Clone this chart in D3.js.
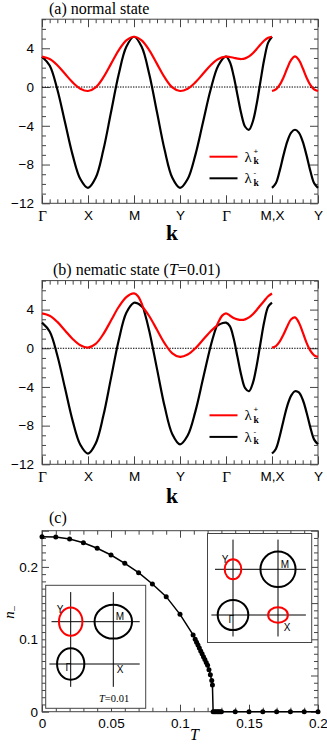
<!DOCTYPE html>
<html><head><meta charset="utf-8">
<script src="https://cdn.jsdelivr.net/npm/d3@7"></script>
<style>body{margin:0;background:#fff}svg{display:block}</style>
</head><body>
<script>
// ---------------- DATA ----------------
const kTicks = [0, 1, 2, 3, 4, 5, 6];
const kLabels = ["Γ", "X", "M", "Y", "Γ", "M,X", "Y"];
const eTicks = [4, 0, -4, -8, -12];

// panel (a) normal state, path Γ-X-M-Y-Γ-M
const kA = [0, .1667, .3333, .5, .6667, .8333, 1, 1.1667, 1.3333, 1.5, 1.6667, 1.8333, 2, 2.1667, 2.3333, 2.5, 2.6667, 2.8333, 3, 3.1667, 3.3333, 3.5, 3.6667, 3.8333, 4, 4.0833, 4.1667, 4.25, 4.3333, 4.4167, 4.5, 4.5833, 4.6667, 4.75, 4.8333, 4.9167, 5];
const redA = [3.13, 2.89, 2.25, 1.36, 0.48, -0.17, -0.41, -0.04, 0.99, 2.39, 3.79, 4.82, 5.19, 4.82, 3.79, 2.39, 0.99, -0.04, -0.41, -0.17, 0.48, 1.36, 2.25, 2.89, 3.13, 3.10, 3.02, 2.93, 2.89, 2.96, 3.16, 3.49, 3.92, 4.39, 4.80, 5.09, 5.19];
const blackA = [3.13, 2.22, -0.26, -3.64, -7.03, -9.50, -10.41, -9.37, -6.51, -2.61, 1.29, 4.15, 5.19, 4.15, 1.29, -2.61, -6.51, -9.37, -10.41, -9.50, -7.03, -3.64, -0.26, 2.22, 3.13, 2.59, 1.13, -0.85, -2.78, -4.10, -4.41, -3.56, -1.75, 0.61, 2.91, 4.58, 5.19];
// X-Y segment
const kXY = [5, 5.0833, 5.1667, 5.25, 5.3333, 5.4167, 5.5, 5.5833, 5.6667, 5.75, 5.8333, 5.9167, 6];
const redAxy = [-0.41, -0.25, 0.22, 0.99, 1.96, 2.81, 3.16, 2.81, 1.96, 0.99, 0.22, -0.25, -0.41];
const blackAxy = [-10.41, -9.93, -8.65, -7.03, -5.60, -4.70, -4.41, -4.70, -5.60, -7.03, -8.65, -9.93, -10.41];

// panel (b) nematic state
const kB = [0, .1667, .3333, .5, .6667, .8333, 1, 1.1667, 1.3333, 1.5, 1.6667, 1.8333, 2, 2.0833, 2.1667, 2.1833, 2.2, 2.2167, 2.3333, 2.5, 2.6667, 2.8333, 3, 3.1667, 3.3333, 3.5, 3.6667, 3.75, 3.7833, 3.8, 3.8167, 3.8333, 3.9167, 4, 4.0833, 4.1667, 4.25, 4.3333, 4.4167, 4.5, 4.5833, 4.6667, 4.75, 4.8333, 4.9167, 5];
const redB = [3.61, 3.37, 2.73, 1.84, 0.96, 0.31, 0.07, 0.45, 1.47, 2.87, 4.27, 5.30, 5.67, 5.40, 4.63, 4.41, 4.18, 4.09, 3.31, 1.91, 0.51, -0.52, -0.89, -0.65, -0.01, 0.88, 1.77, 2.13, 2.26, 2.32, 2.52, 2.70, 3.38, 3.61, 3.39, 3.13, 2.99, 2.93, 2.99, 3.19, 3.52, 3.96, 4.45, 4.92, 5.38, 5.67];
const blackB = [2.65, 1.74, -0.74, -4.12, -7.51, -9.98, -10.89, -9.85, -6.99, -3.09, 0.81, 3.67, 4.71, 4.62, 4.34, 4.26, 4.18, 3.93, 1.77, -2.13, -6.03, -8.89, -9.93, -9.02, -6.55, -3.16, 0.23, 1.63, 2.10, 2.31, 2.36, 2.41, 2.59, 2.65, 2.30, 1.01, -0.91, -2.82, -4.13, -4.44, -3.60, -1.79, 0.55, 2.80, 4.29, 4.71];
const redBxy = [0.07, 0.23, 0.69, 1.42, 2.29, 3.00, 3.19, 2.67, 1.66, 0.58, -0.25, -0.73, -0.89];
const blackBxy = [-10.89, -10.41, -9.12, -7.46, -5.93, -4.89, -4.44, -4.57, -5.30, -6.61, -8.18, -9.45, -9.93];

// panel (c) order parameter n_ vs T
const tempT = [0, .01, .02, .03, .04, .05, .06, .07, .08, .09, .10, .1095, .111, .112, .113, .114, .115, .116, .117, .118, .119, .12, .121, .122, .123, .1235, .124, .125, .126, .127, .128, .129, .13, .14, .15, .16, .17, .18, .19, .2];
const nMinus = [0.2417, 0.2413, 0.2385, 0.2334, 0.2257, 0.2164, 0.2049, 0.1920, 0.1764, 0.1589, 0.1345, 0.106, 0.100, 0.096, 0.092, 0.088, 0.084, 0.080, 0.076, 0.072, 0.068, 0.064, 0.058, 0.051, 0.043, 0.037, 0, 0, 0, 0, 0, 0, 0, 0, 0, 0, 0, 0, 0, 0];
const tTicks = [0, 0.05, 0.1, 0.15, 0.2];
const tLabels = ["0", "0.05", "0.1", "0.15", "0.2"];
const nTicks = [0, 0.1, 0.2];
const nLabels = ["0", "0.1", "0.2"];

// Fermi-surface insets (pocket half-widths in units of π)
const pocketsNem = [
  {name: "Y", kx: 0, ky: 1, rx: 0.275, ry: 0.335, color: "red"},
  {name: "M", kx: 1, ky: 1, rx: 0.44, ry: 0.40, color: "black"},
  {name: "Γ", kx: 0, ky: 0, rx: 0.32, ry: 0.37, color: "black"}
];
const pocketsNorm = [
  {name: "Y", kx: 0, ky: 1, rx: 0.185, ry: 0.22, color: "red"},
  {name: "M", kx: 1, ky: 1, rx: 0.39, ry: 0.39, color: "black"},
  {name: "Γ", kx: 0, ky: 0, rx: 0.34, ry: 0.33, color: "black"},
  {name: "X", kx: 1, ky: 0, rx: 0.22, ry: 0.17, color: "red"}
];

// ---------------- DRAW ----------------
const SERIF = "'Liberation Serif','Times New Roman',serif";
const SANS = "'Liberation Sans',Arial,Helvetica,sans-serif";
const RED = "#ff0000";
const FRAME = "#444";

const svg = d3.select("body").append("svg").attr("width", 327).attr("height", 746);

function ticksOnFrame(g, x, y, xMinor, xMajor, yMinor, yMajor, minLen, majLen) {
  const [xl, xr] = x.range();
  const [yb, yt] = y.range();
  const ax = [
    [d3.axisBottom, yb, xMinor, minLen], [d3.axisBottom, yb, xMajor, majLen],
    [d3.axisTop, yt, xMinor, minLen], [d3.axisTop, yt, xMajor, majLen]
  ];
  ax.forEach(([f, pos, vals, len]) => {
    g.append("g").attr("transform", `translate(0,${pos})`)
      .call(f(x).tickValues(vals).tickSize(-len).tickFormat(""))
      .call(s => { s.select(".domain").remove(); s.selectAll("line").attr("stroke", FRAME); });
  });
  const ay = [
    [d3.axisLeft, xl, yMinor, minLen], [d3.axisLeft, xl, yMajor, majLen],
    [d3.axisRight, xr, yMinor, minLen], [d3.axisRight, xr, yMajor, majLen]
  ];
  ay.forEach(([f, pos, vals, len]) => {
    g.append("g").attr("transform", `translate(${pos},0)`)
      .call(f(y).tickValues(vals).tickSize(-len).tickFormat(""))
      .call(s => { s.select(".domain").remove(); s.selectAll("line").attr("stroke", FRAME); });
  });
  g.append("rect").attr("x", xl).attr("y", yt).attr("width", xr - xl).attr("height", yb - yt)
    .attr("fill", "none").attr("stroke", FRAME).attr("stroke-width", 1);
}

function bandPanel(top, bottom, k, red, black, kxy, redxy, blackxy, legY, titleX, titleY, titleNodes, kY) {
  const x = d3.scaleLinear().domain([0, 6]).range([42, 318]);
  const y = d3.scaleLinear().domain([-12, 7]).range([bottom, top]);
  const g = svg.append("g");

  const xMinor = d3.range(0, 37).map(i => i / 6).filter(v => Math.abs(v - Math.round(v)) > 1e-6);
  const yMinor = d3.range(-12, 8).filter(v => v % 4 !== 0);
  ticksOnFrame(g, x, y, xMinor, kTicks, yMinor, [-12, -8, -4, 0, 4], 4, 8);

  // labels
  g.append("g").attr("transform", `translate(0,${bottom})`)
    .call(d3.axisBottom(x).tickValues(kTicks).tickSize(0).tickPadding(7).tickFormat((d, i) => kLabels[i]))
    .call(s => {
      s.select(".domain").remove();
      s.selectAll("text").attr("font-family", SANS).attr("font-size", 13.5).attr("fill", "#000");
      s.selectAll("text").filter(function () { return this.textContent === "Γ"; })
        .attr("font-family", SERIF).attr("font-size", 15);
    });
  g.append("g").attr("transform", `translate(42,0)`)
    .call(d3.axisLeft(y).tickValues(eTicks).tickSize(0).tickPadding(8).tickFormat(d3.format("d")))
    .call(s => {
      s.select(".domain").remove();
      s.selectAll("text").attr("font-family", SANS).attr("font-size", 13.5).attr("fill", "#000");
    });

  // zero line
  g.append("line").attr("x1", x(0)).attr("x2", x(6)).attr("y1", y(0)).attr("y2", y(0))
    .attr("stroke", "#000").attr("stroke-width", 1).attr("stroke-dasharray", "1.4,1.2");

  const line = d3.line().x(d => x(d[0])).y(d => y(d[1])).curve(d3.curveCatmullRom.alpha(0.5));
  const series = [
    [d3.zip(k, black), "#000"], [d3.zip(kxy, blackxy), "#000"],
    [d3.zip(k, red), RED], [d3.zip(kxy, redxy), RED]
  ];
  series.forEach(([d, c]) => {
    g.append("path").attr("d", line(d)).attr("fill", "none").attr("stroke", c)
      .attr("stroke-width", 2.2).attr("stroke-linejoin", "round");
  });

  // legend
  [[legY, RED, "+"], [legY + 21.6, "#000", "-"]].forEach(([ly, c, sgn]) => {
    g.append("line").attr("x1", 209.5).attr("x2", 237.5).attr("y1", ly).attr("y2", ly)
      .attr("stroke", c).attr("stroke-width", 2);
    g.append("text").attr("x", 244.5).attr("y", ly + 5).attr("font-family", SERIF)
      .attr("font-size", 15).text("λ");
    g.append("text").attr("x", 253.5).attr("y", ly - 3).attr("font-family", SANS)
      .attr("font-size", 8).text(sgn);
    g.append("text").attr("x", 253.5).attr("y", ly + 7.5).attr("font-family", SERIF)
      .attr("font-weight", "bold").attr("font-size", 9.5).text("k");
  });

  // title
  const t = g.append("text").attr("x", titleX).attr("y", titleY).attr("font-family", SERIF).attr("font-size", 16);
  titleNodes.forEach(([s, it]) => t.append("tspan").attr("font-style", it ? "italic" : "normal").text(s));

  // k axis label
  g.append("text").attr("x", 172).attr("y", kY).attr("text-anchor", "middle").attr("font-family", SERIF)
    .attr("font-weight", "bold").attr("font-size", 21.5).text("k");
}

bandPanel(19.2, 203.3, kA, redA, blackA, kXY, redAxy, blackAxy, 156.7, 49, 14,
  [["(a) normal state", false]], 239.5);
bandPanel(280.6, 464.3, kB, redB, blackB, kXY, redBxy, blackBxy, 415.3, 53, 274.5,
  [["(b) nematic state (", false], ["T", true], ["=0.01)", false]], 503);

// ---------- panel (c) ----------
{
  const x = d3.scaleLinear().domain([0, 0.2]).range([42, 318]);
  const y = d3.scaleLinear().domain([0, 0.25]).range([711.7, 530.7]);
  const g = svg.append("g");
  const xMinor = d3.range(0, 21).map(i => i / 100).filter(v => Math.abs(v * 20 - Math.round(v * 20)) > 1e-6);
  const xMajor = [0, .05, .1, .15, .2];
  const yMinor = d3.range(0, 26).map(i => i / 100).filter(v => Math.abs(v * 20 - Math.round(v * 20)) > 1e-6);
  const yMajor = [0, .05, .1, .15, .2, .25];
  ticksOnFrame(g, x, y, xMinor, xMajor, yMinor, yMajor, 4, 7);

  g.append("g").attr("transform", `translate(0,711.7)`)
    .call(d3.axisBottom(x).tickValues(tTicks).tickSize(0).tickPadding(7).tickFormat((d, i) => tLabels[i]))
    .call(s => { s.select(".domain").remove(); s.selectAll("text").attr("font-family", SANS).attr("font-size", 13.5).attr("fill", "#000"); });
  g.append("g").attr("transform", `translate(42,0)`)
    .call(d3.axisLeft(y).tickValues(nTicks).tickSize(0).tickPadding(4).tickFormat((d, i) => nLabels[i]))
    .call(s => { s.select(".domain").remove(); s.selectAll("text").attr("font-family", SANS).attr("font-size", 13.5).attr("fill", "#000"); });

  // insets
  function inset(bx, by, bw, bh, gx, gy, sx, sy, pockets, lines, labels, extra) {
    const ig = g.append("g");
    ig.append("rect").attr("x", bx).attr("y", by).attr("width", bw).attr("height", bh)
      .attr("fill", "#fff").attr("stroke", FRAME).attr("stroke-width", 1);
    const kx = d3.scaleLinear().domain([0, 1]).range([gx, gx + sx]);
    const ky = d3.scaleLinear().domain([0, 1]).range([gy, gy - sy]);
    lines.forEach(l => {
      ig.append("line").attr("x1", kx(l[0])).attr("y1", ky(l[1])).attr("x2", kx(l[2])).attr("y2", ky(l[3]))
        .attr("stroke", "#000").attr("stroke-width", 1);
    });
    pockets.forEach(p => {
      ig.append("ellipse").attr("cx", kx(p.kx)).attr("cy", ky(p.ky))
        .attr("rx", kx(p.rx) - kx(0)).attr("ry", ky(0) - ky(p.ry))
        .attr("fill", "none").attr("stroke", p.color === "red" ? RED : "#000").attr("stroke-width", 2);
    });
    labels.forEach(l => {
      ig.append("text").attr("x", kx(l[1])).attr("y", ky(l[2])).attr("font-family", SANS)
        .attr("font-size", 10).text(l[0]);
    });
    if (extra) extra(ig);
  }
  inset(45.7, 585.3, 100, 123, 70.7, 664, 42.6, 42.3, pocketsNem,
    [[0, 1.7, 0, -0.54], [1, 1.7, 1, -0.54], [-0.45, 1, 0.62 + 1, 1], [-0.5, 0, 1.62, 0]],
    [["Y", -0.33, 1.2], ["M", 1.06, 1.05], ["Γ", -0.12, -0.17], ["X", 1.08, -0.22]],
    ig => {
      const t = ig.append("text").attr("x", 99).attr("y", 701.5).attr("font-family", SERIF).attr("font-size", 10.5);
      t.append("tspan").attr("font-style", "italic").text("T");
      t.append("tspan").text("=0.01");
    });
  inset(207.5, 533.5, 104.2, 109, 233, 615, 45, 45.7, pocketsNorm,
    [[0, 1.65, 0, -0.47], [1, 1.65, 1, -0.47], [-0.4, 1, 1.62, 1], [-0.48, 0, 1.62, 0]],
    [["Y", -0.25, 1.13], ["M", 1.06, 1.02], ["Γ", -0.1, -0.17], ["X", 1.13, -0.35]], null);

  // data
  const pts = d3.zip(tempT, nMinus);
  const line = d3.line().x(d => x(d[0])).y(d => y(d[1]));
  g.append("path").attr("d", line(pts)).attr("fill", "none").attr("stroke", "#000").attr("stroke-width", 1.5);
  g.selectAll("circle.pt").data(pts).join("circle").attr("class", "pt")
    .attr("cx", d => x(d[0])).attr("cy", d => y(d[1])).attr("r", 2.5).attr("fill", "#000");

  g.append("text").attr("x", 49).attr("y", 523).attr("font-family", SERIF).attr("font-size", 16).text("(c)");
  g.append("text").attr("x", 194.5).attr("y", 740).attr("text-anchor", "middle").attr("font-family", SERIF)
    .attr("font-style", "italic").attr("font-size", 16).text("T");
  const yl = g.append("text").attr("transform", "translate(13.5,612) rotate(-90)").attr("text-anchor", "middle")
    .attr("font-family", SERIF).attr("font-size", 15);
  yl.append("tspan").attr("font-style", "italic").text("n");
  yl.append("tspan").attr("font-size", 10.5).attr("dy", 4).text("−");
}
</script>
</body></html>
